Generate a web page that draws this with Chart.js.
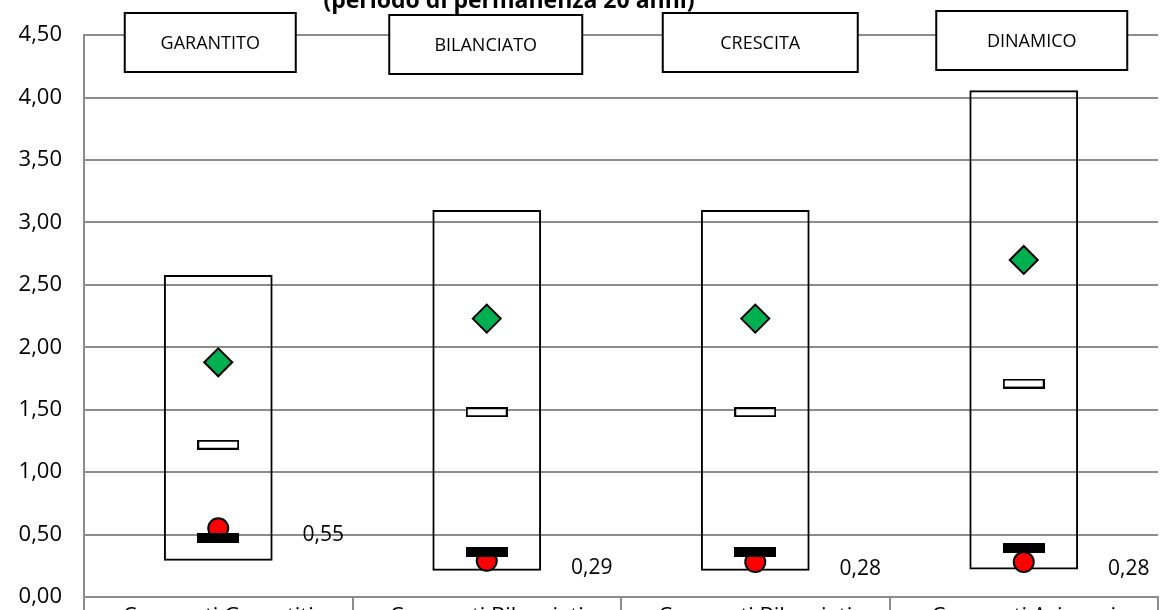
<!DOCTYPE html>
<html>
<head>
<meta charset="utf-8">
<script src="https://cdn.jsdelivr.net/npm/chart.js@4"></script>
<style>
  html, body { margin: 0; padding: 0; background: #fff; }
  #wrap { position: relative; width: 1160px; height: 610px; overflow: hidden; }
  #chart { display: block; }
</style>
</head>
<body>
<div id="wrap"><canvas id="chart" width="1160" height="650"></canvas></div>
<script>
// categories and data
const categories = ["Comparti Garantiti", "Comparti Bilanciati", "Comparti Bilanciati", "Comparti Azionari"];
const boxTitles = ["GARANTITO", "BILANCIATO", "CRESCITA", "DINAMICO"];
const rangeLow = [0.29, 0.21, 0.21, 0.22];
const rangeHigh = [2.58, 3.10, 3.10, 4.06];
const diamondValues = [1.88, 2.23, 2.23, 2.70];
const dashValues = [1.22, 1.48, 1.48, 1.71];
const blackValues = [0.47, 0.36, 0.36, 0.39];
const redValues = [0.55, 0.29, 0.28, 0.28];
const yTicks = [0, 0.5, 1, 1.5, 2, 2.5, 3, 3.5, 4, 4.5];

const FONT = "'Open Sans', 'DejaVu Sans', sans-serif";
const GRID = "#8c8c8c";

const fmt = (v) => v.toFixed(2).replace(".", ",");

function markerCanvas(w, h, fill, stroke) {
  const c = document.createElement("canvas");
  c.width = w;
  c.height = h;
  const g = c.getContext("2d");
  g.fillStyle = fill;
  g.fillRect(0, 0, w, h);
  if (stroke) {
    g.strokeStyle = stroke;
    g.lineWidth = 2;
    g.strokeRect(1, 1, w - 2, h - 2);
  }
  return c;
}

const dashMark = markerCanvas(42, 10, "#ffffff", "#000000");
const blackMark = markerCanvas(42, 10, "#000000");

// title (partly cut off at top), category boxes and value labels
const extras = {
  id: "extras",
  afterDatasetsDraw(chart) {
    const { ctx } = chart;
    const x = chart.scales.x;
    ctx.save();

    ctx.fillStyle = "#000";
    ctx.font = "bold 23px " + FONT;
    ctx.textAlign = "center";
    ctx.textBaseline = "alphabetic";
    ctx.fillText("(periodo di permanenza 20 anni)", 509, 8);

    // the text boxes sit a little off the category centres, as in the original
    const shift = [-8, -1, 5, 8];
    const widths = [171, 193, 195, 191];
    const tops = [13, 15, 13, 11];
    ctx.font = "18px " + FONT;
    ctx.textBaseline = "middle";
    boxTitles.forEach((t, i) => {
      const cx = x.getPixelForValue(i) + shift[i];
      const w = widths[i], h = 59, top = tops[i];
      ctx.fillStyle = "#fff";
      ctx.fillRect(cx - w / 2, top, w, h);
      ctx.strokeStyle = "#000";
      ctx.lineWidth = 2;
      ctx.strokeRect(cx - w / 2, top, w, h);
      ctx.fillStyle = "#000";
      ctx.fillText(t, cx, top + h / 2 + 1);
    });

    const meta = chart.getDatasetMeta(4);
    ctx.font = "21px " + FONT;
    meta.data.forEach((pt, i) => {
      ctx.fillText(fmt(redValues[i]), pt.x + 105, pt.y + 7);
    });
    ctx.restore();
  },
};

new Chart(document.getElementById("chart"), {
  type: "bar",
  data: {
    labels: categories,
    datasets: [
      {
        label: "range",
        data: rangeLow.map((lo, i) => [lo, rangeHigh[i]]),
        backgroundColor: "rgba(0,0,0,0)",
        borderColor: "#000",
        borderWidth: 2,
        borderSkipped: false,
        categoryPercentage: 1,
        barPercentage: 0.405,
        order: 6,
      },
      {
        type: "line",
        label: "diamond",
        data: diamondValues,
        showLine: false,
        pointStyle: "rectRot",
        pointRadius: 14,
        pointBackgroundColor: "#00b050",
        pointBorderColor: "#000",
        pointBorderWidth: 2,
        order: 3,
      },
      {
        type: "line",
        label: "dash",
        data: dashValues,
        showLine: false,
        pointStyle: dashMark,
        order: 4,
      },
      {
        type: "line",
        label: "black",
        data: blackValues,
        showLine: false,
        pointStyle: blackMark,
        order: 1,
      },
      {
        type: "line",
        label: "red",
        data: redValues,
        showLine: false,
        pointStyle: "circle",
        pointRadius: 10,
        pointBackgroundColor: "#ff0000",
        pointBorderColor: "#000",
        pointBorderWidth: 2,
        order: 2,
      },
    ],
  },
  options: {
    responsive: false,
    animation: false,
    devicePixelRatio: 1,
    layout: { autoPadding: false, padding: { top: 35, left: 18, right: 2, bottom: 23 } },
    plugins: {
      legend: { display: false },
      tooltip: { enabled: false },
    },
    scales: {
      x: {
        offset: true,
        afterFit: (s) => {
          s.paddingLeft = 0;
          s.paddingRight = 0;
          s.height = 30;
        },
        grid: {
          offset: true,
          drawOnChartArea: false,
          drawTicks: true,
          tickLength: 40,
          color: GRID,
          lineWidth: 2,
        },
        border: { display: true, color: GRID, width: 2 },
        ticks: {
          padding: -33,
          color: "#000",
          font: { family: FONT, size: 22 },
          maxRotation: 0,
          autoSkip: false,
        },
      },
      y: {
        min: 0,
        max: 4.5,
        afterBuildTicks: (scale) => {
          scale.ticks = yTicks.map((v) => ({ value: v }));
        },
        afterFit: (s) => {
          s.width = 66;
        },
        grid: { color: GRID, lineWidth: 2, drawTicks: false },
        border: { display: true, color: GRID, width: 2 },
        ticks: {
          padding: 22,
          color: "#000",
          font: { family: FONT, size: 22 },
          callback: (v) => fmt(v),
        },
      },
    },
  },
  plugins: [extras],
});
</script>
</body>
</html>
